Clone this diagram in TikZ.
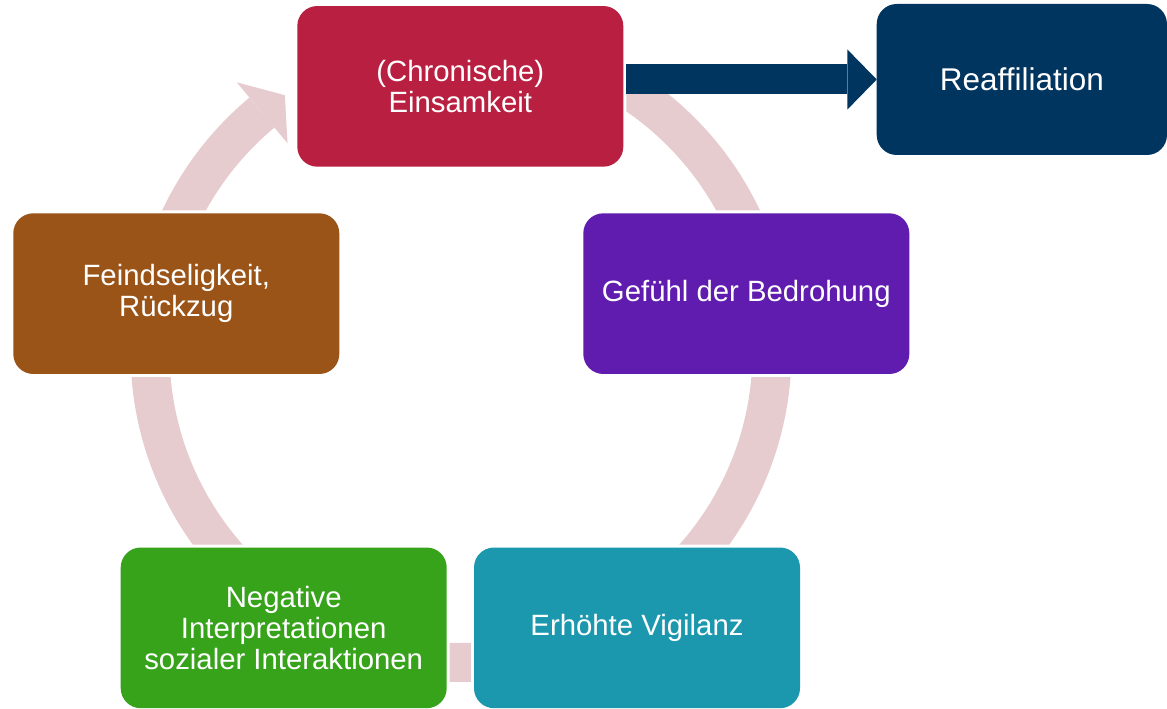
\documentclass[tikz,border=0pt]{standalone}
\usepackage{fontspec}
\setmainfont{Liberation Sans}
\usetikzlibrary{arrows.meta}

\definecolor{ringpink}{HTML}{E6CBCF}
\definecolor{lonelyred}{HTML}{B91F40}
\definecolor{reaffblue}{HTML}{00355F}
\definecolor{threatpurple}{HTML}{601CAE}
\definecolor{vigilteal}{HTML}{1C98AE}
\definecolor{interpgreen}{HTML}{36A31B}
\definecolor{hostilbrown}{HTML}{9A5418}

\tikzset{
	stagebox/.style={rectangle, rounded corners=15pt, minimum width=244.5pt, minimum height=120.5pt,
		inner sep=0pt, outer sep=0pt, text=white, align=center, font=\fontsize{22}{23.25}\selectfont,
		preaction={draw=white, line width=4.5pt}},
}

\begin{document}
\begin{tikzpicture}[x=0.75pt, y=-0.75pt]
		\useasboundingbox (0, 0) rectangle (1167, 709);
		% the cycle ring
		\coordinate (hub) at (461, 351.5);
		\draw[ringpink, line width=29.25pt] (hub) ++(-90:311) arc[start angle=-90, end angle=230.2, radius=311];
		\fill[ringpink] ([shift={(230.2:350.4)}]hub) -- ([shift={(235.5:311)}]hub) -- ([shift={(230.2:271)}]hub) -- cycle;
		% stages
		\node[stagebox, fill=lonelyred] (lonely) at (460.3, 86.35) {(Chronische)\\Einsamkeit};
		\node[stagebox, fill=threatpurple] (threat) at (746.3, 293.65) {Gefühl der Bedrohung};
		\node[stagebox, fill=vigilteal] (vigil) at (637, 627.85) {Erhöhte Vigilanz};
		\node[stagebox, fill=interpgreen] (interp) at (283.7, 627.85) {Negative\\Interpretationen\\sozialer Interaktionen};
		\node[stagebox, fill=hostilbrown] (hostil) at (176.3, 293.65) {Feindseligkeit,\\Rückzug};
		\node[stagebox, fill=reaffblue, minimum width=217.7pt, minimum height=113.25pt,
			font=\fontsize{23.6}{25}\selectfont] (reaff) at (1021.85, 79.5) {Reaffiliation};
		% way out of the cycle
		\draw[reaffblue, line width=22.5pt, shorten <=2.25pt,
			-{Triangle[length=22pt, width=45pt, line width=0pt]}] (lonely.east |- reaff.west) -- (reaff.west);
	\end{tikzpicture}
\end{document}
